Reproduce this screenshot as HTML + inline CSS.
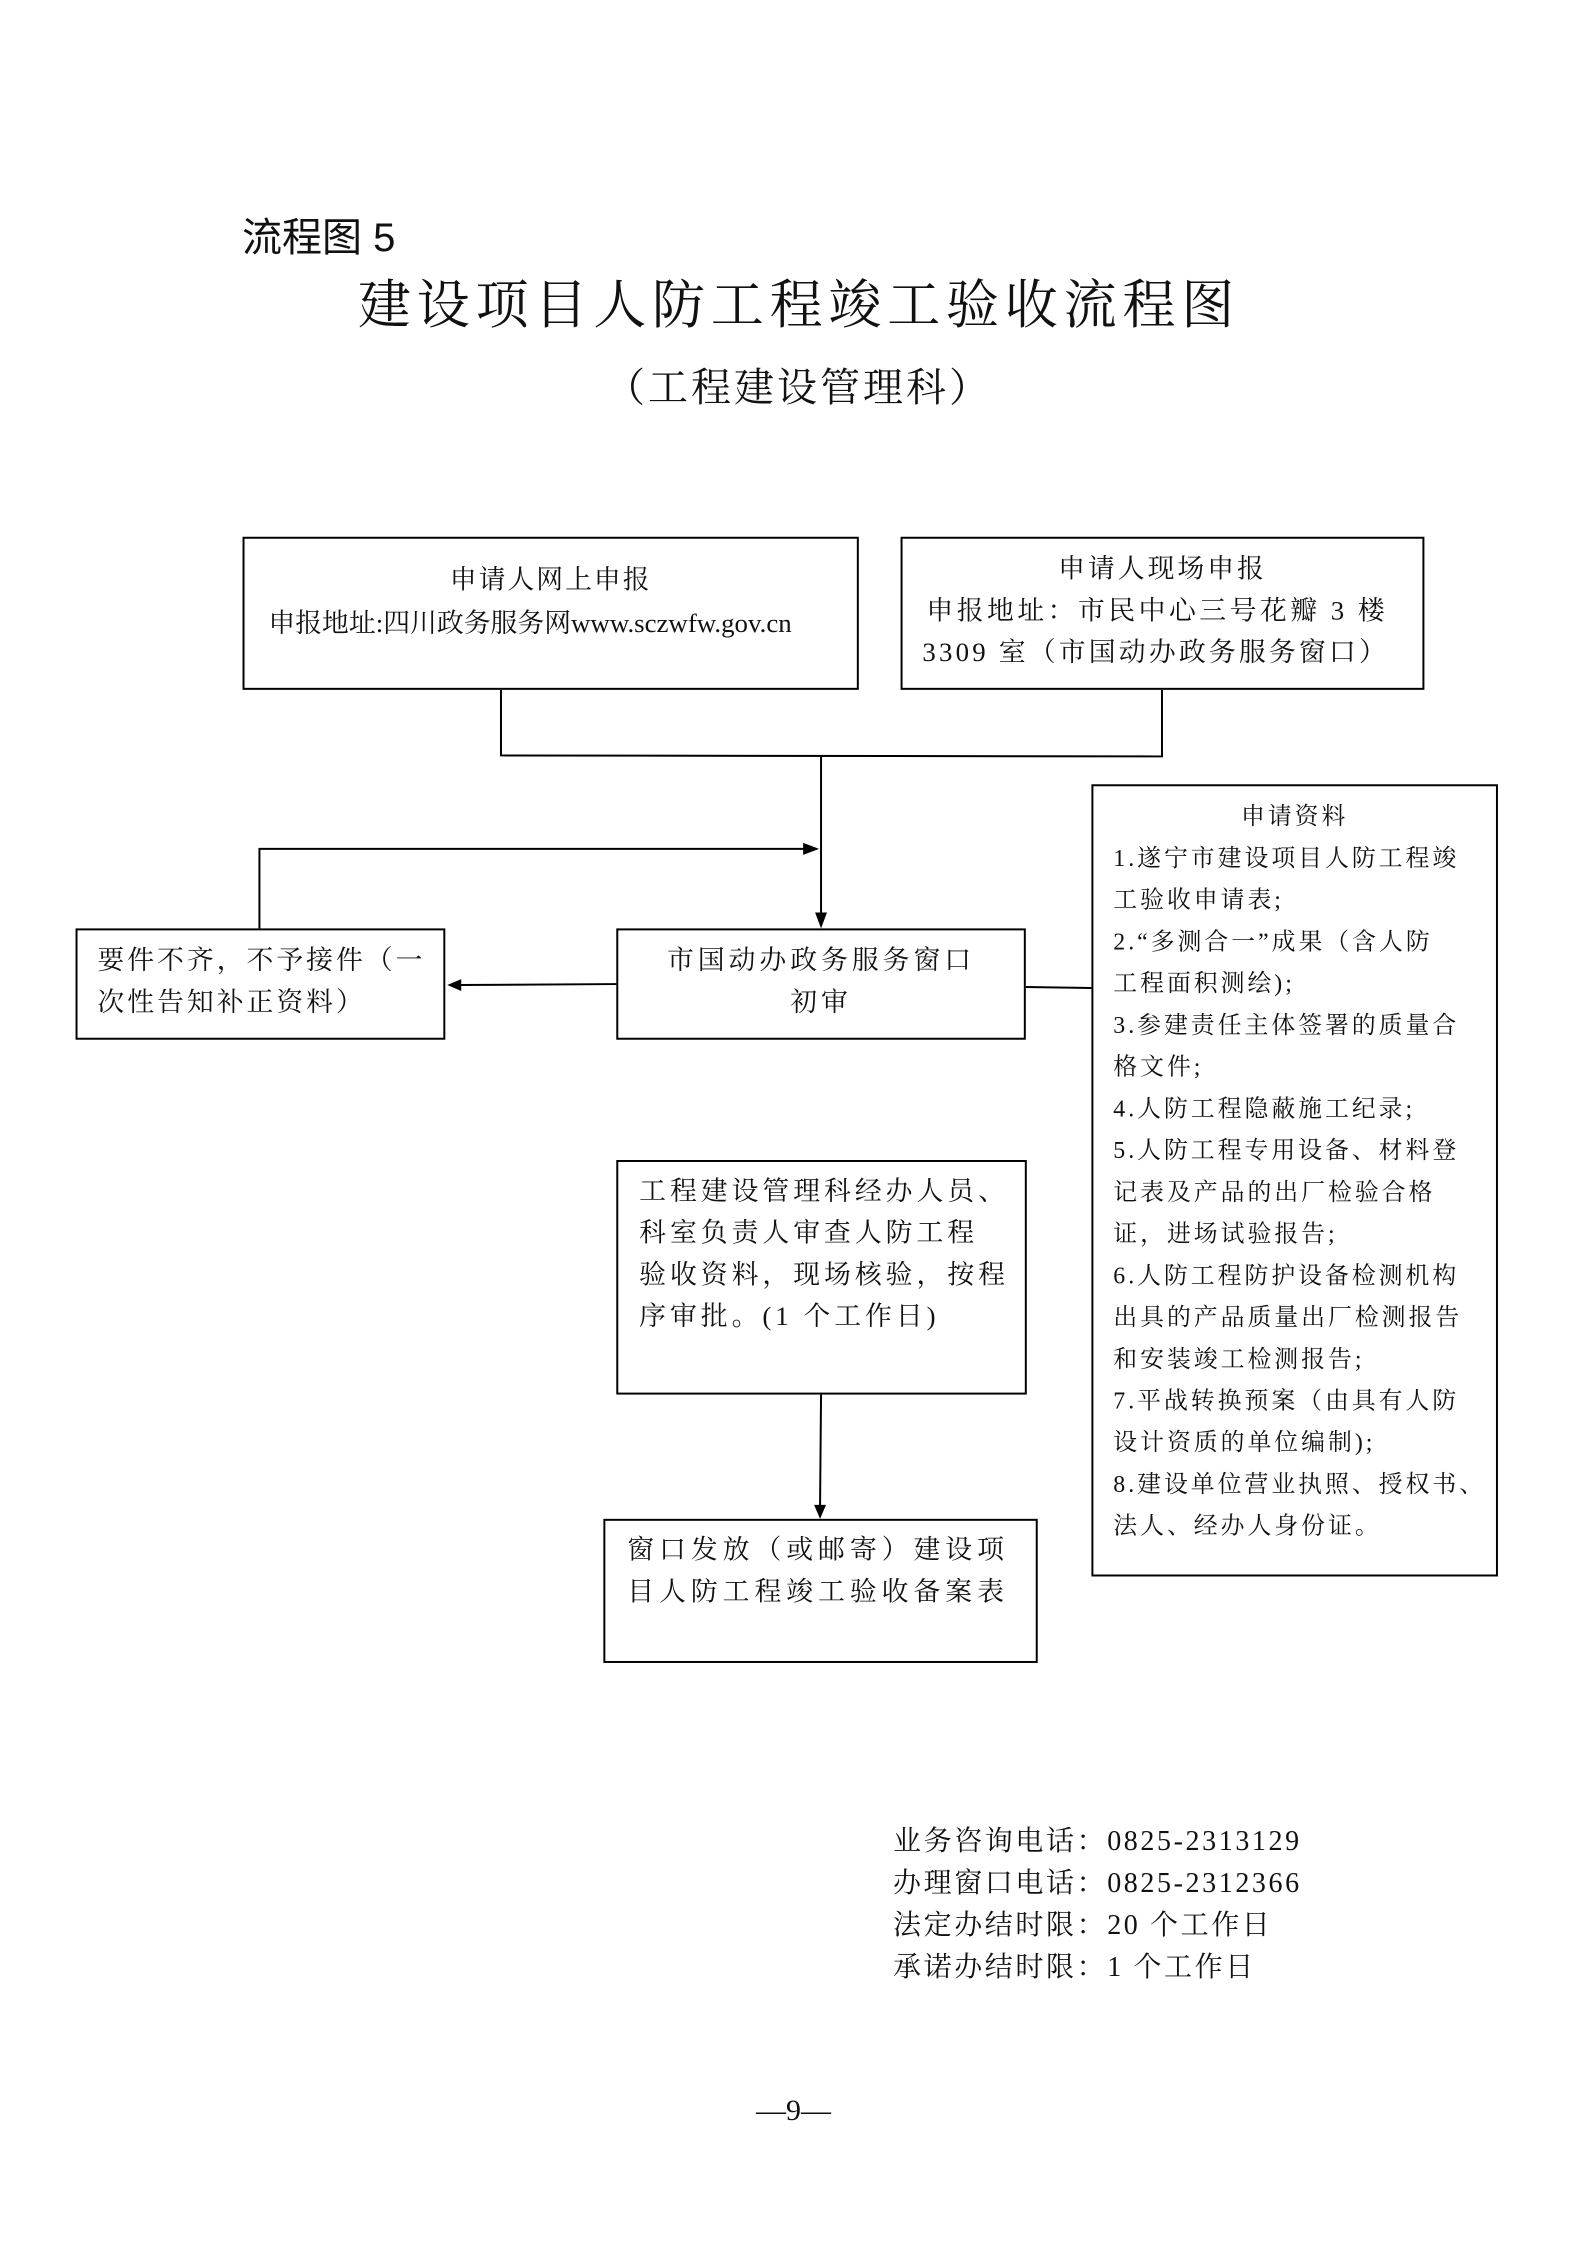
<!DOCTYPE html>
<html><head><meta charset="utf-8"><style>
html,body{margin:0;padding:0;background:#fff;}
body{width:1587px;height:2245px;position:relative;overflow:hidden;font-family:"Liberation Serif","Noto Serif CJK SC",serif;color:#111;}
.t{position:absolute;white-space:nowrap;line-height:1;}
.b{position:absolute;border:2px solid #000;box-sizing:border-box;}
.m{font-size:24px;letter-spacing:3px;}
#d{position:absolute;left:0;top:0;width:1587px;height:2245px;transform:scale(0.994);transform-origin:0 0;}
</style></head><body>
<div class="t" style="left:242px;top:218px;font-size:40px;font-family:'Liberation Sans','Noto Sans CJK SC',sans-serif;">流程图 5</div>
<div class="t" style="left:358px;top:280px;font-size:53px;letter-spacing:5.8px;">建设项目人防工程竣工验收流程图</div>
<div class="t" style="left:605px;top:368px;font-size:40px;letter-spacing:3px;">（工程建设管理科）</div>

<div id="d">
<div class="b" style="left:244px;top:540px;width:620px;height:154px;"></div>
<div class="b" style="left:906px;top:540px;width:527px;height:154px;"></div>
<div class="b" style="left:76px;top:934px;width:372px;height:112px;"></div>
<div class="b" style="left:620px;top:934px;width:412px;height:112px;"></div>
<div class="b" style="left:1098px;top:789px;width:409px;height:797px;"></div>
<div class="b" style="left:620px;top:1167px;width:413px;height:236px;"></div>
<div class="b" style="left:607px;top:1528px;width:437px;height:145px;"></div>

<svg style="position:absolute;left:0;top:0" width="1587" height="2245">
<g stroke="#000" stroke-width="2" fill="none">
<polyline points="504,694 504,760 1169,761 1169,694"/>
<line x1="826" y1="760" x2="826" y2="920"/>
<polyline points="261,934 261,854 812,854"/>
<line x1="620" y1="990" x2="462" y2="991"/>
<line x1="1032" y1="993" x2="1098" y2="994"/>
<line x1="826" y1="1403" x2="825" y2="1516"/>
</g>
<g fill="#000">
<polygon points="820,918 832,918 826,934"/>
<polygon points="808,848 808,860 824,854"/>
<polygon points="464,985 464,997 450,991"/>
<polygon points="819,1514 831,1514 825,1528"/>
</g>
</svg>

<div class="t" style="left:0;width:1108px;text-align:center;top:570px;font-size:27px;letter-spacing:2px;">申请人网上申报</div>
<div class="t" style="left:270px;top:614px;font-size:27px;letter-spacing:0px;">申报地址:四川政务服务网www.sczwfw.gov.cn</div>
<div class="t" style="left:906px;width:527px;text-align:center;top:559px;font-size:27px;letter-spacing:3px;">申请人现场申报</div>
<div class="t" style="left:932px;top:601px;font-size:27px;letter-spacing:3.5px;">申报地址：市民中心三号花瓣 3 楼</div>
<div class="t" style="left:928px;top:643px;font-size:27px;letter-spacing:3.2px;">3309 室（市国动办政务服务窗口）</div>

<div class="t" style="left:98px;top:953px;font-size:27px;letter-spacing:3px;">要件不齐，不予接件（一</div>
<div class="t" style="left:98px;top:995px;font-size:27px;letter-spacing:3px;">次性告知补正资料）</div>
<div class="t" style="left:620px;width:412px;text-align:center;top:953px;font-size:27px;letter-spacing:4px;">市国动办政务服务窗口</div>
<div class="t" style="left:620px;width:412px;text-align:center;top:995px;font-size:27px;letter-spacing:4px;">初审</div>

<div class="t" style="left:643px;top:1185px;font-size:27px;letter-spacing:4px;">工程建设管理科经办人员、</div>
<div class="t" style="left:643px;top:1227px;font-size:27px;letter-spacing:4px;">科室负责人审查人防工程</div>
<div class="t" style="left:643px;top:1269px;font-size:27px;letter-spacing:4px;">验收资料，现场核验，按程</div>
<div class="t" style="left:643px;top:1311px;font-size:27px;letter-spacing:4px;">序审批。(1 个工作日)</div>

<div class="t" style="left:631px;top:1546px;font-size:27px;letter-spacing:5px;">窗口发放（或邮寄）建设项</div>
<div class="t" style="left:631px;top:1588px;font-size:27px;letter-spacing:5px;">目人防工程竣工验收备案表</div>

<div class="t m" style="left:1098px;width:409px;text-align:center;top:810px;">申请资料</div>
<div class="t m" style="left:1120px;top:852px;">1.遂宁市建设项目人防工程竣</div>
<div class="t m" style="left:1120px;top:894px;">工验收申请表;</div>
<div class="t m" style="left:1120px;top:936px;">2.“多测合一”成果（含人防</div>
<div class="t m" style="left:1120px;top:978px;">工程面积测绘);</div>
<div class="t m" style="left:1120px;top:1020px;">3.参建责任主体签署的质量合</div>
<div class="t m" style="left:1120px;top:1062px;">格文件;</div>
<div class="t m" style="left:1120px;top:1104px;">4.人防工程隐蔽施工纪录;</div>
<div class="t m" style="left:1120px;top:1146px;">5.人防工程专用设备、材料登</div>
<div class="t m" style="left:1120px;top:1188px;">记表及产品的出厂检验合格</div>
<div class="t m" style="left:1120px;top:1230px;">证，进场试验报告;</div>
<div class="t m" style="left:1120px;top:1272px;">6.人防工程防护设备检测机构</div>
<div class="t m" style="left:1120px;top:1314px;">出具的产品质量出厂检测报告</div>
<div class="t m" style="left:1120px;top:1356px;">和安装竣工检测报告;</div>
<div class="t m" style="left:1120px;top:1398px;">7.平战转换预案（由具有人防</div>
<div class="t m" style="left:1120px;top:1440px;">设计资质的单位编制);</div>
<div class="t m" style="left:1120px;top:1482px;">8.建设单位营业执照、授权书、</div>
<div class="t m" style="left:1120px;top:1524px;">法人、经办人身份证。</div>
</div>

<div class="t" style="left:893px;top:1828px;font-size:28px;letter-spacing:2.6px;">业务咨询电话：0825-2313129</div>
<div class="t" style="left:893px;top:1870px;font-size:28px;letter-spacing:2.6px;">办理窗口电话：0825-2312366</div>
<div class="t" style="left:893px;top:1912px;font-size:28px;letter-spacing:2.6px;">法定办结时限：20 个工作日</div>
<div class="t" style="left:893px;top:1954px;font-size:28px;letter-spacing:2.6px;">承诺办结时限：1 个工作日</div>

<div class="t" style="left:0;width:1587px;text-align:center;top:2096px;font-size:30px;">—9—</div>
</body></html>
